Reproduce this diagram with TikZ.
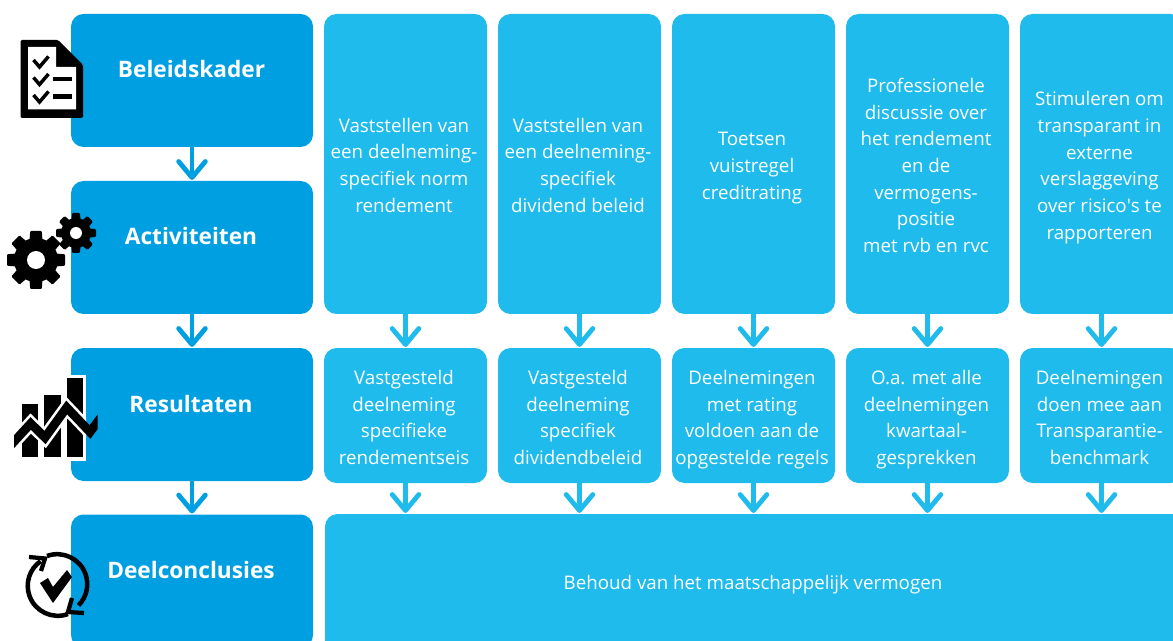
\documentclass[tikz,border=0pt]{standalone}
\usepackage{fontspec}
\setmainfont{Open Sans}
\newfontfamily\plainapos{Open Sans}
\usetikzlibrary{arrows.meta}
\definecolor{dark}{HTML}{009FE2}
\definecolor{light}{HTML}{1EBBEC}
\tikzset{
  x=0.75pt,y=-0.75pt,
  basebox/.style={rounded corners=12.5pt*0.75,inner sep=0pt},
  darkbox/.style={basebox,fill=dark,minimum width=181.5pt,minimum height=99.75pt},
  tallbox/.style={basebox,fill=light,minimum width=122.25pt,minimum height=225pt},
  midbox/.style={basebox,fill=light,minimum width=122.25pt,minimum height=101.25pt},
  txt/.style={inner sep=0pt,text=white,align=center,font=\fontsize{14.05pt}{20pt}\selectfont},
  head/.style={text=white,inner sep=0pt,font=\fontsize{17pt}{20pt}\selectfont\bfseries},
  darrow/.style={draw=dark,line width=3.6pt,-{Straight Barb[length=12pt,width=20pt,round,line width=3.6pt]},shorten >=0.6pt},
  larrow/.style={darrow,draw=light},
  ink/.style={draw=black,line width=3.4pt},
}
\newcommand{\gearicon}[4]{% cx cy outer inner
  \fill[black] (#1,#2) circle[radius=#4];
  \foreach \a in {0,45,...,315}{
    \fill[black,rotate around={\a:(#1,#2)},rounded corners=0.8pt]
      ({#1-0.27*#3},#2) -- ({#1-0.2*#3},{#2-#3}) -- ({#1+0.2*#3},{#2-#3}) -- ({#1+0.27*#3},#2) -- cycle;
  }
}
\begin{document}
\begin{tikzpicture}
\useasboundingbox (0,0) rectangle (1173,641);
\clip (0,0) rectangle (1173,641);
\fill[white] (0,0) rectangle (1173,641);

% left column
\node[darkbox] (beleid) at (192,80.5) {};
\node[darkbox] (activ) at (192,247.5) {};
\node[darkbox] (result) at (192,414.5) {};
\node[darkbox] (concl) at (192,581) {};
\node[head] (tb) at (191.5,69.5) {Beleidskader};
\node[head] (ta) at (191,236.5) {Activiteiten};
\node[head] (tr) at (191,403.5) {Resultaten};
\node[head] (tc) at (191,569.5) {Deelconclusies};

% activity boxes
\foreach \i/\x in {1/405.5,2/579.5,3/753.5,4/927.5,5/1101.5}{
  \node[tallbox] (a\i) at (\x,164) {};
  \node[midbox] (r\i) at (\x,415.5) {};
}
\node[txt] (ta1) at (404,165) {Vaststellen van\\een deelneming-\\specifiek norm\\rendement};
\node[txt] (ta2) at (578,165) {Vaststellen van\\een deelneming-\\specifiek\\dividend beleid};
\node[txt] (ta3) at (752,168) {Toetsen\\vuistregel\\creditrating};
\node[txt] (ta4) at (926,165.5) {Professionele\\discussie over\\het rendement\\en de\\vermogens-\\positie\\met rvb en rvc};
\node[txt] (ta5) at (1099.5,167.5) {Stimuleren om\\transparant in\\externe\\verslaggeving\\over risico{\plainapos '}s te\\rapporteren};

% result boxes
\node[txt] (tr1) at (404,417.5) {Vastgesteld\\deelneming\\specifieke\\rendementseis};
\node[txt] (tr2) at (578,417.5) {Vastgesteld\\deelneming\\specifiek\\dividendbeleid};
\node[txt] (tr3) at (752,419.5) {Deelnemingen\\met rating\\voldoen aan de\\opgestelde regels};
\node[txt] (tr4) at (926.5,419.5) {O.a. met alle\\deelnemingen\\kwartaal-\\gesprekken};
\node[txt] (tr5) at (1099.5,417.5) {Deelnemingen\\doen mee aan\\Transparantie-\\benchmark};

% conclusion
\node[basebox,fill=light,minimum width=660pt,minimum height=135pt] (behoud) at (765,604) {};
\node[txt] (bt) at (753,585) {Behoud van het maatschappelijk vermogen};

% connectors
\draw[darrow] (beleid.south) -- (activ.north);
\draw[darrow] (activ.south) -- (result.north);
\draw[darrow] (result.south) -- (concl.north);
\foreach \i in {1,...,5}{
  \draw[larrow] (a\i.south) -- (r\i.north);
  \draw[larrow] (r\i.south) -- (r\i.south |- behoud.north);
}

% checklist icon
\fill[black,rounded corners=1pt] (20.5,40) -- (58,40) -- (83,65) -- (83,118) -- (20.5,118) -- cycle;
\fill[white] (28,47) -- (56,47) -- (56,67) -- (76,67) -- (76,109.5) -- (28,109.5) -- cycle;
\foreach \d in {0,17.5,35}{
  \draw[black,line width=2.6pt] (33.5,{60+\d}) -- (39.5,{67+\d}) -- (48.5,{56.5+\d});
}
\draw[black,line width=3.6pt] (53,79) -- (72,79) (53,96.5) -- (72,96.5);

% gears
\gearicon{36}{260}{29}{22}
\fill[white] (36,260) circle[radius=9];
\gearicon{76}{233}{20}{15}
\fill[white] (76,233) circle[radius=6];

% chart icon
\fill[white] (68,375) rectangle (86,461);
\fill[black] (21.5,403.5) rectangle (38,457);
\fill[black] (44,394.5) rectangle (60.5,457);
\fill[black] (66.5,378) rectangle (83,457);
\begin{scope}
\clip (14,370) rectangle (86,465);
\draw[white,line width=10.5pt,line join=miter] (10,446) -- (30.7,423.5) -- (45,437.5) -- (66.7,407.5) -- (90,432);
\end{scope}
\begin{scope}
\clip (14,370) rectangle (97.7,465);
\draw[black,line width=6.6pt,line join=miter] (10,446) -- (30.7,423.5) -- (45,437.5) -- (66.7,407.5) -- (90,432) -- (102,416);
\end{scope}

% cycle icon
\draw[ink] (47,556) arc[start angle=-110,end angle=45,radius=30];
\draw[ink] (68,614) arc[start angle=70,end angle=235,radius=30];
\draw[black,line width=3.2pt,line join=miter] (29,557) -- (45,558.5) -- (41,571);
\draw[black,line width=3.2pt,line join=miter] (84,613) -- (68,612) -- (72,598);
\fill[black] (40,583) -- (48,578) -- (53,587) -- (67,570) -- (72,577) -- (53,603) -- cycle;
\end{tikzpicture}
\end{document}
